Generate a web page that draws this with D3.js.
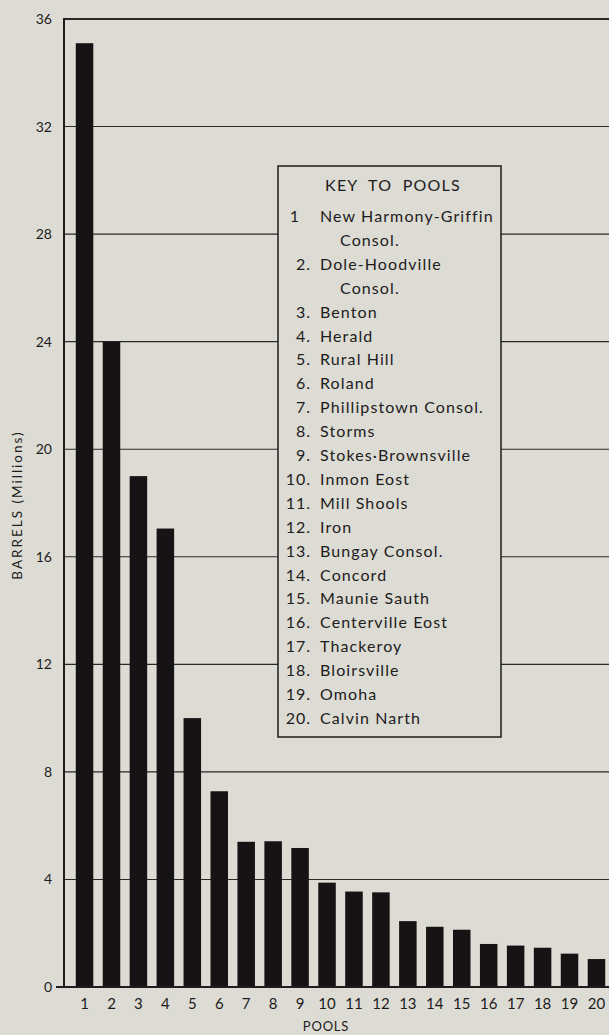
<!DOCTYPE html>
<html>
<head>
<meta charset="utf-8">
<script src="https://cdn.jsdelivr.net/npm/d3@7"></script>
<style>
  body { margin: 0; background: #dcdbd4; }
  text { font-family: Lato, "DejaVu Sans", sans-serif; fill: #1e1c1c; }
</style>
</head>
<body>
<script>
let width = 609;
let height = 1035;

// data
var pools = d3.range(1, 21);
var barrels = [35.1, 24.0, 19.0, 17.05, 10.0, 7.28, 5.4, 5.42, 5.17, 3.88, 3.55, 3.52, 2.45, 2.24, 2.13, 1.6, 1.54, 1.46, 1.24, 1.04];
var yTicks = [0, 4, 8, 12, 16, 20, 24, 28, 32, 36];
var keyNumbers = ['1', '', '2.', '', '3.', '4.', '5.', '6.', '7.', '8.', '9.', '10.', '11.', '12.', '13.', '14.', '15.', '16.', '17.', '18.', '19.', '20.'];
var keyNames = ['New Harmony-Griffin', 'Consol.', 'Dole-Hoodville', 'Consol.', 'Benton', 'Herald', 'Rural Hill', 'Roland',
  'Phillipstown Consol.', 'Storms', 'Stokes\u00b7Brownsville', 'Inmon Eost', 'Mill Shools', 'Iron', 'Bungay Consol.',
  'Concord', 'Maunie Sauth', 'Centerville Eost', 'Thackeroy', 'Bloirsville', 'Omoha', 'Calvin Narth'];

let plotLeft = 64, plotTop = 19, plotBottom = 987, plotRight = 609;

var svg = d3.select('body')
            .append('svg')
            .attr('width', width)
            .attr('height', height);

var x = d3.scaleBand().domain(pools).range([65, 616]).paddingInner(0.35).paddingOuter(0.4);
var y = d3.scaleLinear().domain([0, 36]).range([plotBottom, plotTop]);

// grid lines
svg.append('g').selectAll('line').data(yTicks.filter(d => d > 0)).enter().append('line')
    .attr('x1', plotLeft).attr('x2', plotRight)
    .attr('y1', d => y(d)).attr('y2', d => y(d))
    .attr('stroke', '#2a2828')
    .attr('stroke-width', d => d === 36 ? 2 : 1.1);

// key box (covers the grid)
let boxX = 278, boxY = 166, boxW = 223, boxH = 571;
svg.append('rect').attr('x', boxX).attr('y', boxY).attr('width', boxW).attr('height', boxH)
    .attr('fill', '#dcdbd4').attr('stroke', '#1e1c1c').attr('stroke-width', 1.5);

svg.append('text').attr('x', 393).attr('y', boxY + 25)
    .attr('text-anchor', 'middle').attr('font-size', 16).attr('letter-spacing', 1.2)
    .style('white-space', 'pre').text('KEY  TO  POOLS');

let rowH = 23.9;
keyNames.forEach(function(name, i) {
  let yy = boxY + 56 + i * rowH;
  if (keyNumbers[i] !== '') {
    svg.append('text').attr('x', keyNumbers[i] === '1' ? 300 : 311).attr('y', yy)
        .attr('text-anchor', 'end').attr('font-size', 16).attr('letter-spacing', 1).text(keyNumbers[i]);
  }
  svg.append('text').attr('x', keyNumbers[i] === '' ? 340 : 320).attr('y', yy)
      .attr('font-size', 16).attr('letter-spacing', 1.1).text(name);
});

// bars
svg.append('g').selectAll('rect').data(barrels).enter().append('rect')
    .attr('x', (d, i) => x(pools[i]))
    .attr('width', x.bandwidth())
    .attr('y', d => y(d))
    .attr('height', d => plotBottom - y(d))
    .attr('fill', '#161314');

// axes
svg.append('line').attr('x1', plotLeft).attr('x2', plotLeft).attr('y1', plotTop - 1).attr('y2', plotBottom + 1)
    .attr('stroke', '#1e1c1c').attr('stroke-width', 2);
svg.append('line').attr('x1', 56).attr('x2', plotRight).attr('y1', plotBottom).attr('y2', plotBottom)
    .attr('stroke', '#1e1c1c').attr('stroke-width', 2);

var yAxis = d3.axisLeft(y).tickValues(yTicks).tickSize(0).tickPadding(12);
svg.append('g').attr('transform', 'translate(' + plotLeft + ',0)').call(yAxis)
    .call(g => g.select('.domain').remove())
    .selectAll('text').attr('font-size', 14).attr('font-family', 'Lato, sans-serif').attr('fill', '#1e1c1c');

var xAxis = d3.axisBottom(x).tickSize(0).tickPadding(11);
svg.append('g').attr('transform', 'translate(0,' + plotBottom + ')').call(xAxis)
    .call(g => g.select('.domain').remove())
    .selectAll('text').attr('font-size', 15).attr('font-family', 'Lato, sans-serif').attr('fill', '#1e1c1c');

svg.append('text').attr('x', 326).attr('y', 1031).attr('text-anchor', 'middle')
    .attr('font-size', 13).attr('letter-spacing', 0.8).text('POOLS');

svg.append('text').attr('transform', 'translate(22,505) rotate(-90)')
    .attr('text-anchor', 'middle').attr('font-size', 13.5).attr('letter-spacing', 2)
    .text('BARRELS (Millions)');
</script>
</body>
</html>
